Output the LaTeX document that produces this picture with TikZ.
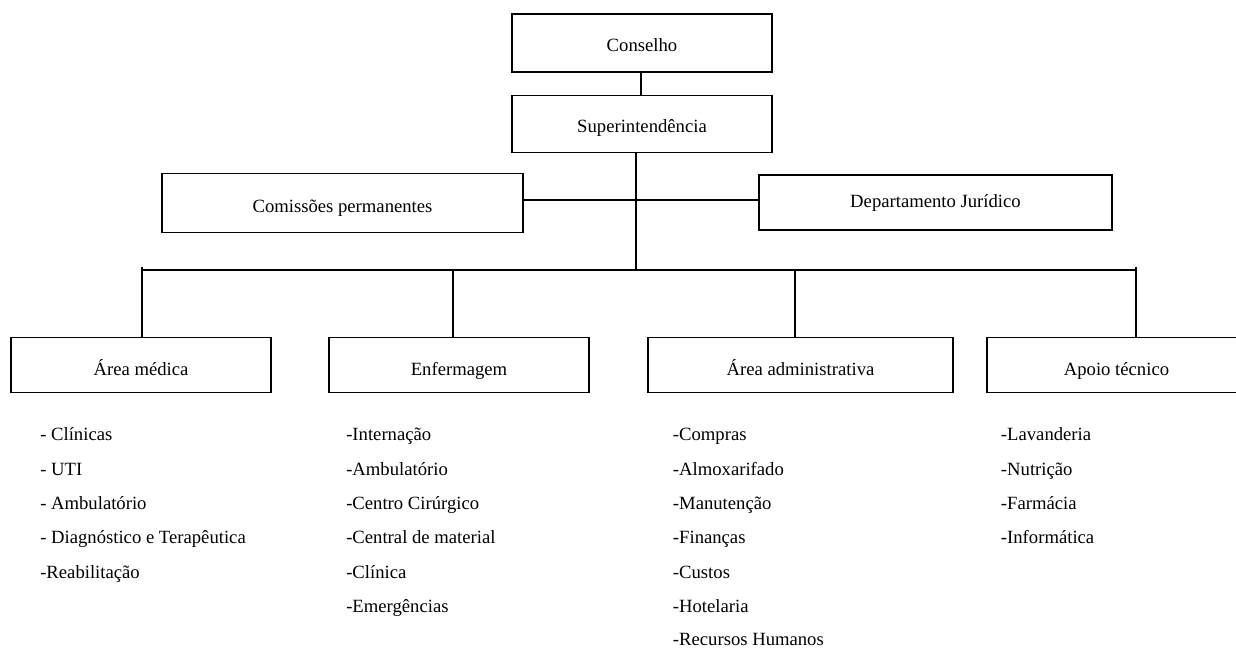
\documentclass[tikz,border=0pt]{standalone}
\usepackage{fontspec}
\setmainfont{Liberation Serif}
\begin{document}
\begin{tikzpicture}[x=0.75pt,y=-0.75pt,
  box/.style={draw, line width=0.9pt, inner sep=0pt, text depth=0pt, text height=16.5pt, font=\fontsize{14}{16}\selectfont},
  item/.style={anchor=base west, inner sep=0pt, font=\fontsize{14}{16}\selectfont},
  conn/.style={line width=0.9pt}]
\useasboundingbox (0,0) rectangle (1236,648);
\clip (0,0) rectangle (1236,648);
% boxes
\node[box, text height=13pt, minimum width=195pt, minimum height=43.5pt] (cons) at (642,43) {Conselho};
\node[box, text height=13.5pt, minimum width=195pt, minimum height=42.75pt] (sup) at (642,123.7) {Superintendência};
\node[box, text height=14.6pt, minimum width=270.75pt, minimum height=44.25pt] (com) at (342.5,203) {Comissões permanentes};
\node[box, text height=7.5pt, minimum width=264.75pt, minimum height=41.25pt] (dep) at (935.5,202.5) {Departamento Jurídico};
\node[box, minimum width=195pt, minimum height=41.25pt] (am) at (141,365) {Área médica};
\node[box, minimum width=195pt, minimum height=41.25pt] (enf) at (459,365) {Enfermagem};
\node[box, minimum width=228.75pt, minimum height=41.25pt] (adm) at (800.5,365) {Área administrativa};
\node[box, minimum width=194.25pt, minimum height=41.25pt] (apo) at (1116.5,365) {Apoio técnico};
% bus coordinates
\coordinate (d1) at (142,270);
\coordinate (d2) at (453,270);
\coordinate (d3) at (795,270);
\coordinate (d4) at (1136,270);
\coordinate (tr) at (636,270);
% connectors
\draw[conn] ([xshift=-0.75pt]cons.south) -- ([xshift=-0.75pt]cons.south |- sup.north);
\draw[conn] (tr |- sup.south) -- (tr);
\draw[conn] (com.east |- 0,200) -- (dep.west |- 0,200);
\draw[conn] (d1) -- (d4);
\draw[conn] ([yshift=2pt]d1) -- (d1 |- am.north);
\draw[conn] (d2) -- (d2 |- enf.north);
\draw[conn] (d3) -- (d3 |- adm.north);
\draw[conn] ([yshift=2pt]d4) -- (d4 |- apo.north);
% lists
\node[item] (am1) at (40,440.7) {- Clínicas};
\node[item] (am2) at (40,475.1) {- UTI};
\node[item] (am3) at (40,509.5) {- Ambulatório};
\node[item] (am4) at (40,543.9) {- Diagnóstico e Terapêutica};
\node[item] (am5) at (40,578.3) {-Reabilitação};
\node[item] (en1) at (346,440.7) {-Internação};
\node[item] (en2) at (346,475.1) {-Ambulatório};
\node[item] (en3) at (346,509.5) {-Centro Cirúrgico};
\node[item] (en4) at (346,543.9) {-Central de material};
\node[item] (en5) at (346,578.3) {-Clínica};
\node[item] (en6) at (346,612.7) {-Emergências};
\node[item] (ad1) at (672.7,440.7) {-Compras};
\node[item] (ad2) at (672.7,475.1) {-Almoxarifado};
\node[item] (ad3) at (672.7,509.5) {-Manutenção};
\node[item] (ad4) at (672.7,543.9) {-Finanças};
\node[item] (ad5) at (672.7,578.3) {-Custos};
\node[item] (ad6) at (672.7,612.7) {-Hotelaria};
\node[item] (ad7) at (672.7,645.5) {-Recursos Humanos};
\node[item] (ap1) at (1000.7,440.7) {-Lavanderia};
\node[item] (ap2) at (1000.7,475.1) {-Nutrição};
\node[item] (ap3) at (1000.7,509.5) {-Farmácia};
\node[item] (ap4) at (1000.7,543.9) {-Informática};
\end{tikzpicture}
\end{document}
